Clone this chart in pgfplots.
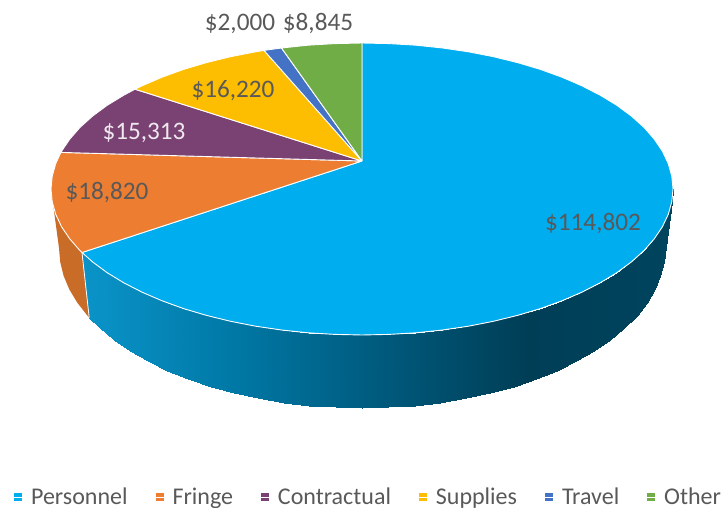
\documentclass[border=0pt]{standalone}
\usepackage{fontspec}
\setmainfont{Carlito}
\usepackage{pgfplots}
\pgfplotsset{compat=1.18}
\definecolor{personnel}{HTML}{00ADEE}
\definecolor{fringe}{HTML}{ED7D31}
\definecolor{contractual}{HTML}{7A4273}
\definecolor{supplies}{HTML}{FDBD00}
\definecolor{travel}{HTML}{4472C4}
\definecolor{other}{HTML}{70AD47}
\definecolor{fringeside}{HTML}{C96C28}
\definecolor{lbl}{HTML}{595959}
\newcommand{\bigfont}{\fontsize{25.2}{28}\selectfont}
\newcommand{\legfont}{\fontsize{24}{27}\selectfont}

\begin{document}
\begin{tikzpicture}
\begin{axis}[
  scale only axis, width=725pt, height=508pt,
  xmin=0, xmax=725, ymin=0, ymax=508, y dir=reverse,
  hide axis, clip=false,
  colormap={pieside}{rgb255=(10,147,200) rgb255=(0,120,165) rgb255=(0,90,125) rgb255=(0,62,86) rgb255=(0,68,94)},
  point meta min=88, point meta max=673,
  legend columns=6,
  legend style={at={(axis cs:13,497)}, anchor=west, draw=none, fill=none, overlay,
    font=\legfont, text=lbl, inner xsep=0pt, inner ysep=0pt,
    /tikz/every even column/.append style={column sep=25pt}},
  legend cell align=left,
  legend image code/.code={\fill[#1] (0pt,-4.5pt) rectangle (9pt,4.5pt); \path (0pt,0pt) -- (15pt,0pt);},
]
% side of the pie, top rim then bottom rim
\addplot[surf, shader=interp, mesh/rows=2, mesh/cols=32, point meta=x, forget plot] coordinates {
  (673.0,189.0) (671.8,201.7) (668.3,214.3) (662.4,226.8) (654.2,238.9) (643.9,250.7) (631.3,262.0) (616.8,272.7)
  (600.2,282.8) (581.9,292.2) (561.9,300.8) (540.4,308.6) (517.5,315.4) (493.4,321.3) (468.4,326.2) (442.5,330.0)
  (416.0,332.8) (389.1,334.4) (362.0,335.0) (334.9,334.4) (308.0,332.8) (281.5,330.0) (255.6,326.2) (230.6,321.3)
  (206.5,315.4) (183.6,308.6) (162.1,300.8) (142.1,292.2) (123.8,282.8) (107.2,272.7) (92.7,262.0) (82.0,252.5)
  (665.0,248.0) (663.8,262.0) (660.4,275.8) (654.7,289.4) (646.7,302.7) (636.6,315.6) (624.4,328.0) (610.2,339.8)
  (594.1,350.8) (576.3,361.1) (556.8,370.6) (535.8,379.1) (513.5,386.6) (490.0,393.0) (465.6,398.4) (440.4,402.5)
  (414.6,405.6) (388.4,407.4) (362.0,408.0) (335.6,407.4) (309.4,405.6) (283.6,402.5) (258.4,398.4) (234.0,393.0)
  (210.5,386.6) (188.2,379.1) (167.2,370.6) (147.7,361.1) (129.9,350.8) (113.8,339.8) (99.6,328.0) (89.2,317.6)
};
\addplot[fill=fringeside, draw=none, forget plot] coordinates {
  (82.0,252.5) (80.1,250.7) (69.8,238.9) (61.6,226.8) (55.7,214.3) (52.2,201.7) (51.0,189.0)
  (59.0,248.0) (60.2,262.0) (63.6,275.8) (69.3,289.4) (77.3,302.7) (87.4,315.6) (89.2,317.6) (82.0,252.5)
};
\addplot[draw=white, line width=0.8pt, forget plot] coordinates {(82.0,252.5) (89.2,317.6)};
% top of the pie
\addplot[fill=personnel, draw=white, line width=0.9pt] coordinates {
  (362,161) (362,43) (389.1,43.6) (416.0,45.2) (442.5,48.0) (468.4,51.8) (493.4,56.7) (517.5,62.6) (540.4,69.4)
  (561.9,77.2) (581.9,85.8) (600.2,95.2) (616.8,105.3) (631.3,116.0) (643.9,127.3) (654.2,139.1) (662.4,151.2)
  (668.3,163.7) (671.8,176.3) (673.0,189.0) (671.8,201.7) (668.3,214.3) (662.4,226.8) (654.2,238.9) (643.9,250.7)
  (631.3,262.0) (616.8,272.7) (600.2,282.8) (581.9,292.2) (561.9,300.8) (540.4,308.6) (517.5,315.4) (493.4,321.3)
  (468.4,326.2) (442.5,330.0) (416.0,332.8) (389.1,334.4) (362.0,335.0) (334.9,334.4) (308.0,332.8) (281.5,330.0)
  (255.6,326.2) (230.6,321.3) (206.5,315.4) (183.6,308.6) (162.1,300.8) (142.1,292.2) (123.8,282.8) (107.2,272.7)
  (92.7,262.0) (82.0,252.5) (362,161)
};
\addlegendentry{Personnel}
\addplot[fill=fringe, draw=white, line width=0.9pt] coordinates {
  (362,161) (82.0,252.5) (80.1,250.7) (69.8,238.9) (61.6,226.8) (55.7,214.3) (52.2,201.7) (51.0,189.0)
  (52.2,176.3) (55.7,163.7) (60.9,152.4) (362,161)
};
\addlegendentry{Fringe}
\addplot[fill=contractual, draw=white, line width=0.9pt] coordinates {
  (362,161) (60.9,152.4) (61.6,151.2) (69.8,139.1) (80.1,127.3) (92.7,116.0) (107.2,105.3) (123.8,95.2) (135.0,89.2) (362,161)
};
\addlegendentry{Contractual}
\addplot[fill=supplies, draw=white, line width=0.9pt] coordinates {
  (362,161) (135.0,89.2) (142.1,85.8) (162.1,77.2) (183.6,69.4) (206.5,62.6) (230.6,56.7) (255.6,51.8) (264.0,50.4) (362,161)
};
\addlegendentry{Supplies}
\addplot[fill=travel, draw=white, line width=0.9pt] coordinates {
  (362,161) (264.0,50.4) (281.5,48.0) (362,161)
};
\addlegendentry{Travel}
\addplot[fill=other, draw=white, line width=0.9pt] coordinates {
  (362,161) (281.5,48.0) (308.0,45.2) (334.9,43.6) (362,43) (362,161)
};
\addlegendentry{Other}
% value labels
\node[font=\bigfont, text=lbl] at (axis cs:593,224) {\$114,802};
\node[font=\bigfont, text=lbl] at (axis cs:107,193) {\$18,820};
\node[font=\bigfont, text=white!88!contractual] at (axis cs:144,133) {\$15,313};
\node[font=\bigfont, text=lbl] at (axis cs:233,91) {\$16,220};
\node[font=\bigfont, text=lbl] at (axis cs:240,24) {\$2,000};
\node[font=\bigfont, text=lbl] at (axis cs:318,24) {\$8,845};
\path (axis cs:0,0) rectangle (axis cs:725,508);
\end{axis}
\end{tikzpicture}
\end{document}
